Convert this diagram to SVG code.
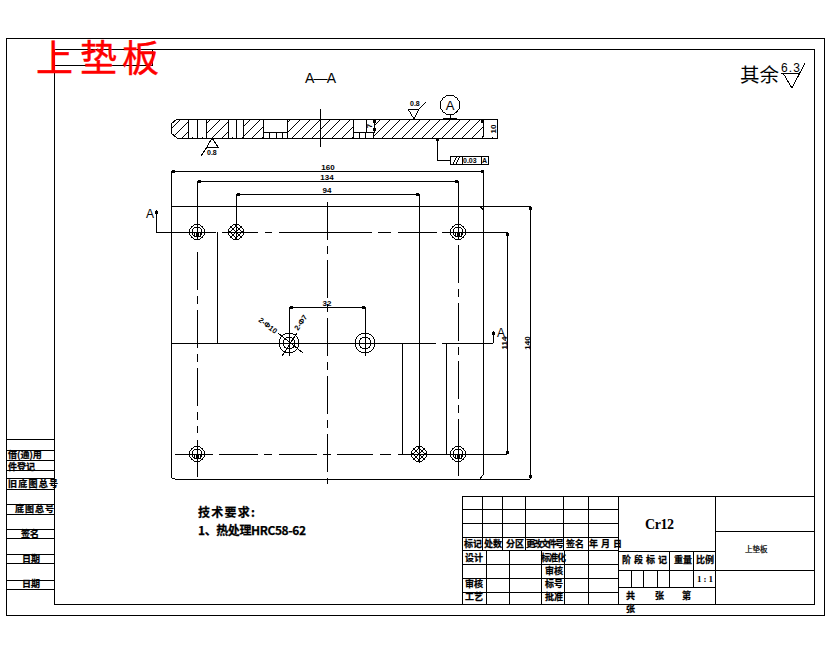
<svg xmlns="http://www.w3.org/2000/svg" width="830" height="654" viewBox="0 0 830 654">
<defs>
<pattern id="h" width="10" height="10" patternUnits="userSpaceOnUse"><path d="M-1 11L11 -1M-6 6L6 -6M4 16L16 4" stroke="#000" stroke-width="1" fill="none" shape-rendering="crispEdges"/></pattern>
<pattern id="fine" width="6" height="6" patternUnits="userSpaceOnUse"><path d="M-1 7L7 -1M-1 -1L7 7" stroke="#000" stroke-width="1" fill="none" shape-rendering="crispEdges"/></pattern>
<g id="hole"><circle r="7.5" class="l"/><circle r="5" class="l"/><path d="M-3 1V5M-1 1V5M1 1V5M3 1V5" class="l"/></g>
<g id="holeb"><circle r="7.5" class="l" style="fill:url(#fine)"/></g>
</defs>
<style>
.l{stroke:#000;stroke-width:1;fill:none;shape-rendering:crispEdges}
.c{stroke:#000;stroke-width:1;fill:none;shape-rendering:crispEdges;stroke-dasharray:38 6 8 6}
.t{font-family:"Noto Sans CJK SC","Liberation Sans",sans-serif;font-weight:700;font-size:9px;fill:#000;stroke:#000;stroke-width:.25}
.d{font-family:"Liberation Sans",sans-serif;font-size:8px;font-weight:700;fill:#000}
.m{text-anchor:middle}
.a{font-family:"Liberation Sans",sans-serif;font-size:12px;fill:#000}
.dot{fill:#000}
</style>
<rect width="830" height="654" fill="#fff"/>
<g id="frame">
<rect class="l" x="6.5" y="38.5" width="818" height="577"/>
<rect class="l" x="54.5" y="49.5" width="760" height="555"/>
<rect class="l" x="54.5" y="49.5" width="98" height="16"/>
</g>
<g id="section">
<path d="M177 119H497V138H177L171 133V124Z" fill="url(#h)" stroke="#000" shape-rendering="crispEdges"/>
<rect x="188" y="120" width="18" height="17" fill="#fff"/><rect x="228" y="120" width="15" height="17" fill="#fff"/><rect x="484" y="120" width="13" height="17" fill="#fff"/>
<rect x="264" y="132" width="23" height="6" fill="#fff"/><rect x="354" y="132" width="20" height="6" fill="#fff"/>
<path d="M263 119.5H287V132H263Z M353 119.5H366V132H353Z M366 119.5H374V132H366Z" fill="#fff" stroke="#000" shape-rendering="crispEdges"/>
<path class="l" d="M188 119V138M197 119V138M206 119V138M228 119V138M236 119V138M243 119V138M263 132V138M269 132V138M276 132V138M282 132V138M287 132V138M353 132V138M359 132V138M365 132V138M373 132V138M483 122V135M482 119L484 122M484 135L482 138M320 109V147"/>
</g>
<g id="plate">
<path class="l" d="M175 206H530M171 210Q171 206 175 206M171 171V475Q171 479 175 479H530M483 171V475L480 479M483 210L480 206"/>
<circle class="l" cx="289" cy="343" r="10"/><circle class="l" cx="289" cy="343" r="6"/><circle class="l" cx="365" cy="343" r="10"/><circle class="l" cx="365" cy="343" r="6"/>
<path class="l" d="M289 330V356M365 330V356"/>
<use href="#hole" x="197" y="232"/><use href="#holeb" x="236" y="232"/><use href="#hole" x="458" y="232"/><use href="#hole" x="197" y="454"/><use href="#holeb" x="419" y="454"/><use href="#hole" x="458" y="454"/>
<path class="c" d="M327.5 202V484M197.5 252V433M458.5 245V440"/>
<path class="l" d="M197.5 440V477M458.5 440V476M156 232.5H216M222 232.5H258M265 232.5H272M279 232.5H372M378 232.5H391M398 232.5H437M442 232.5H507M175 454.5H213M219 454.5H258M264 454.5H272M279 454.5H317M323 454.5H331M337 454.5H373M380 454.5H391M398 454.5H507M171 343.5H436M442 343.5H493"/>
</g>
<g id="connectors">
<path class="l" d="M171 171.5H484M197.5 181.5H458M236.5 194.5H419M197.5 181V240M236.5 194V240M458.5 181V240M419.5 194V463M217.5 232V343M402.5 343V454M446.5 343V454M289.5 307V343M365.5 307V343M289 307.5H366M507.5 232V454M530.5 206V479M156.5 210V232M493.5 331V343M437.5 138V160M437 160.5H450"/>
<path class="l" d="M278 333L303 353M297 333L282 356M207 147H218L212 138ZM207 147L201 156M408 109H419L414 119ZM419 109L426 102M450 115V118M443 118.5H457M374 119V132M783 73L792 88L805 63M781 73.5H800"/>
<circle class="l" cx="450" cy="105" r="9.7"/>
<rect class="l" x="450.5" y="156.5" width="38" height="8"/>
<path class="l" d="M462.5 156V164M481.5 156V164M453 164L457 156M456 164L460 156"/>
<path class="dot" d="M172 170h3v3h-3zM481 170h3v3h-3zM198 180h3v3h-3zM455 180h3v3h-3zM237 193h3v3h-3zM416 193h3v3h-3zM290 306h3v3h-3zM362 306h3v3h-3zM506 233h3v3h-3zM506 451h3v3h-3zM529 207h3v3h-3zM529 475h3v3h-3zM436 138h3v3h-3zM155 211h3v3h-3zM492 332h3v3h-3zM373 120h3v3h-3zM373 128h3v3h-3zM481 120h3v3h-3z"/>
</g>
<g id="labels">
<text x="36 80 122" y="72" font-family="'Noto Sans CJK SC',sans-serif" font-size="37" fill="#f00" stroke="#f00" stroke-width=".4">上垫板</text>
<text x="305" y="83" class="a" textLength="31" style="font-size:14px">A—A</text>
<text x="146" y="218" class="a">A</text>
<text x="497" y="337" class="a">A</text>
<text x="450" y="110" class="a m" style="font-size:13px">A</text>
<text class="d m" x="328" y="170">160</text><text class="d m" x="327" y="180">134</text><text class="d m" x="327" y="193">94</text><text class="d m" x="327" y="306">32</text>
<text class="d" x="410" y="106" style="font-size:7px">0.8</text><text class="d" x="207" y="155" style="font-size:7px">0.8</text><text class="d" x="463" y="163" style="font-size:7px">0.03</text><text class="d" x="482" y="163" style="font-size:7px">A</text>
<text class="d m" transform="translate(507,343) rotate(-90)">114</text><text class="d m" transform="translate(530,343) rotate(-90)">140</text><text class="d m" transform="translate(496,129) rotate(-90)">10</text><text class="d m" transform="translate(372,126) rotate(-90)">7</text>
<text class="d" transform="translate(258,321) rotate(38)" style="font-size:7.5px">2-Φ10</text><text class="d" transform="translate(298,331) rotate(-55)" style="font-size:7.5px">2-Φ7</text>
<text x="740" y="82" font-family="'Noto Sans CJK SC',sans-serif" font-size="19.5" fill="#000">其余</text>
<text x="781" y="72" class="a" textLength="19">6.3</text>
<text x="198" y="517" class="t" style="font-size:12px" textLength="57">技术要求:</text>
<text x="198" y="535" class="t" style="font-size:12px" textLength="108">1、热处理HRC58-62</text>
</g>
<g id="left-table">
<path class="l" d="M6 439.5H54M6 450.5H54M6 460.5H54M6 470.5H54M6 478.5H54M6 489.5H54M6 504.5H54M6 514.5H54M6 529.5H54M6 538.5H54M6 554.5H54M6 563.5H54M6 580.5H54M6 589.5H54"/>
<text class="t" x="8" y="458">借(通)用</text><text class="t" x="8" y="470">件登记</text><text class="t" x="8" y="487" textLength="50">旧底图总号</text><text class="t" x="15" y="512" textLength="39">底图总号</text><text class="t" x="21" y="537">签名</text><text class="t" x="22" y="562">日期</text><text class="t" x="22" y="587">日期</text>
</g>
<g id="title-block">
<path class="l" d="M462.5 496.5H814M462 509.5H618M462 523.5H618M462 537.5H618M462 550.5H618M462 564.5H618M462 578.5H618M462 592.5H618M462.5 496V605M618.5 496V605M715.5 496V605M715 531.5H815M618 551.5H715M618 570.5H815M618 587.5H715M482.5 496V550M502.5 496V550M525.5 496V550M563.5 496V550M588.5 496V605M486.5 550V605M509.5 550V605M541.5 550V605M564.5 550V605M631.5 570V587M643.5 570V587M657.5 570V587M669.5 551V587M693.5 551V587"/>
<text class="t" x="464" y="547">标记</text><text class="t" x="484" y="547">处数</text><text class="t" x="506" y="547">分区</text><text class="t" x="526" y="547" textLength="38">更改文件号</text><text class="t" x="566" y="547">签名</text><text class="t" x="589" y="547" textLength="33">年 月 日</text>
<text class="t" x="465" y="561">设计</text><text class="t" x="541" y="561" textLength="25">标准化</text><text class="t" x="545" y="574">审核</text><text class="t" x="465" y="587">审核</text><text class="t" x="545" y="587">标号</text><text class="t" x="465" y="600">工艺</text><text class="t" x="545" y="600">批准</text>
<text x="645" y="529" font-family="'Liberation Serif',serif" font-weight="700" font-size="14" fill="#000" textLength="29">Cr12</text>
<text class="t" x="622" y="563" textLength="45">阶段标记</text><text class="t" x="674" y="563">重量</text><text class="t" x="696" y="563">比例</text>
<text x="697" y="582" font-family="'Liberation Serif',serif" font-weight="700" font-size="9" fill="#000" textLength="16">1:1</text>
<text class="t" x="626" y="599">共</text><text class="t" x="655" y="599">张</text><text class="t" x="682" y="599">第</text><text class="t" x="626" y="612">张</text>
<text x="745" y="552" font-family="'Noto Sans CJK SC',sans-serif" font-size="7.5" fill="#000" stroke="#000" stroke-width=".2">上垫板</text>
</g>
</svg>
